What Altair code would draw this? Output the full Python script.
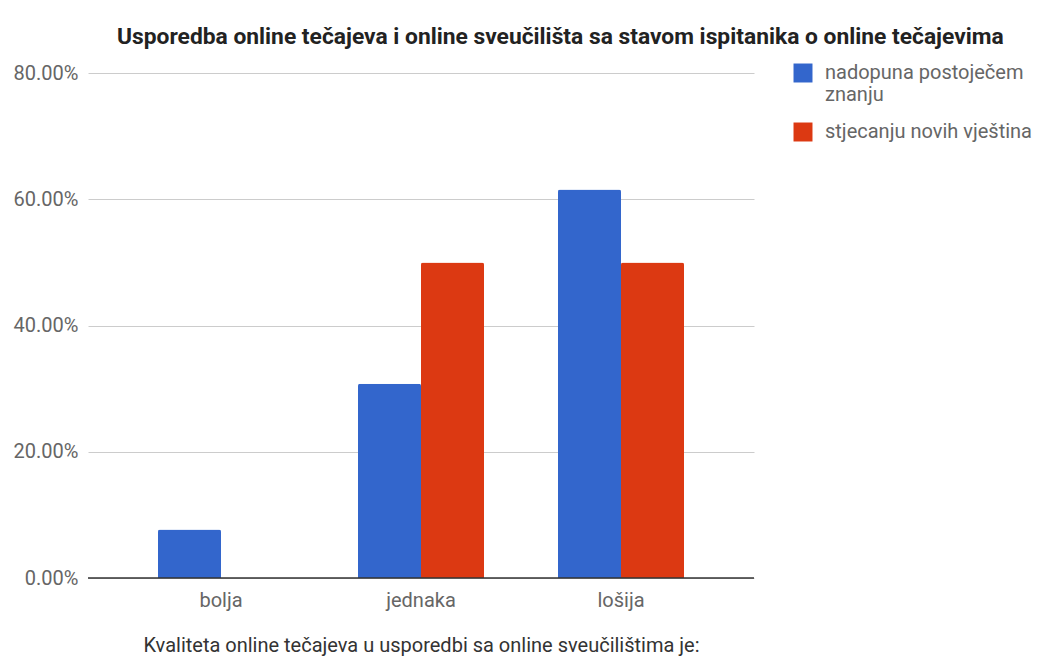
import altair as alt
import pandas as pd

categories = ["bolja", "jednaka", "lošija"]
series = ["nadopuna postoječem znanju", "stjecanju novih vještina"]
blue_values = [0.0769, 0.3077, 0.6154]
red_values = [0.0, 0.50, 0.50]
colors = ["#3366cc", "#dc3912"]

rows = []
for c, b, r in zip(categories, blue_values, red_values):
    rows.append({"kategorija": c, "serija": series[0], "vrijednost": b})
    rows.append({"kategorija": c, "serija": series[1], "vrijednost": r})
df = pd.DataFrame(rows)

FONT = "Roboto"
LBL = 20

bars = alt.Chart(df).mark_bar(cornerRadiusTopLeft=2, cornerRadiusTopRight=2).encode(
    x=alt.X(
        "kategorija:N",
        sort=categories,
        scale=alt.Scale(paddingInner=0.37, paddingOuter=0.35),
        axis=alt.Axis(
            title="Kvaliteta online tečajeva u usporedbi sa online sveučilištima je:",
            labelAngle=0,
            labelFontSize=LBL,
            labelColor="#666666",
            labelFont=FONT,
            labelPadding=12,
            titleFont=FONT,
            titleFontSize=20,
            titleFontWeight="normal",
            titleColor="#333333",
            titlePadding=25,
            ticks=False,
            domain=False,
            grid=False,
        ),
    ),
    xOffset=alt.XOffset("serija:N", sort=series),
    y=alt.Y(
        "vrijednost:Q",
        scale=alt.Scale(domain=[0, 0.8], nice=False),
        axis=alt.Axis(
            title=None,
            format=".2%",
            values=[0, 0.2, 0.4, 0.6, 0.8],
            labelFontSize=LBL,
            labelColor="#666666",
            labelFont=FONT,
            labelPadding=10,
            ticks=False,
            domain=False,
            gridColor="#cccccc",
            gridWidth=1,
        ),
    ),
    color=alt.Color(
        "serija:N",
        sort=series,
        scale=alt.Scale(domain=series, range=colors),
        legend=alt.Legend(
            title=None,
            orient="none",
            legendX=705,
            legendY=-10,
            symbolType="square",
            symbolSize=360,
            symbolStrokeWidth=0,
            symbolOpacity=1,
            labelFont=FONT,
            labelFontSize=LBL,
            labelColor="#666666",
            labelOffset=12,
            rowPadding=17,
            labelLimit=300,
            labelExpr="datum.label == 'nadopuna postoječem znanju' ? ['nadopuna postoječem', 'znanju'] : datum.label",
        ),
    ),
)

baseline = alt.Chart(pd.DataFrame({"y": [0]})).mark_rule(color="#333333", strokeWidth=1.5).encode(
    y="y:Q"
)

chart = alt.layer(bars, baseline).properties(
    width=666,
    height=505,
    padding={"left": 80, "top": 65, "right": 278, "bottom": 82},
    autosize=alt.AutoSizeParams(type="none"),
    title=alt.Title(
        "Usporedba online tečajeva i online sveučilišta sa stavom ispitanika o online tečajevima",
        font=FONT,
        fontSize=22.8,
        fontWeight="bold",
        color="#222222",
        anchor="start",
        frame="group",
        dx=29,
        offset=14,
    ),
).configure(background="white").configure_view(stroke=None)

chart.save("out.html", embed_options={"renderer": "svg", "actions": False})
